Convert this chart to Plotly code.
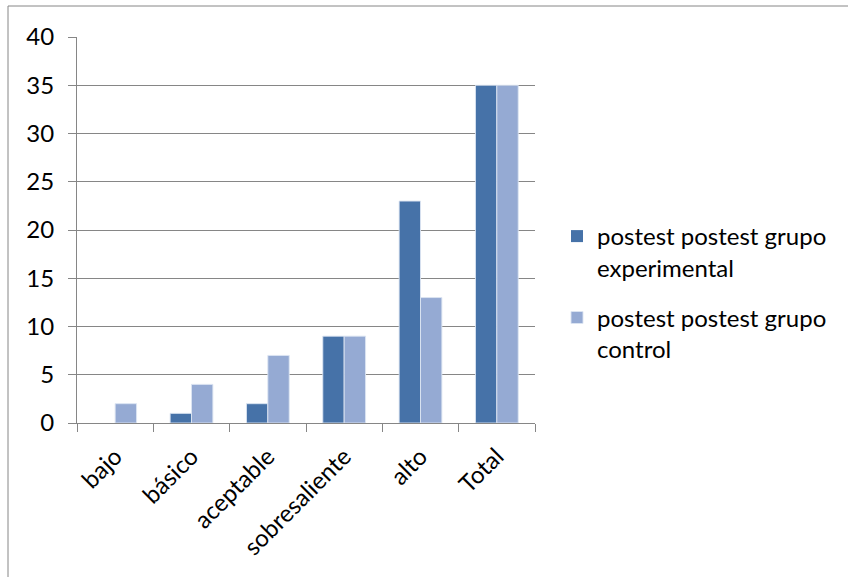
import plotly.graph_objects as go

categories = ["bajo", "básico", "aceptable", "sobresaliente", "alto", "Total"]
experimental = [0, 1, 2, 9, 23, 35]
control = [2, 4, 7, 9, 13, 35]
series_names = ["postest postest grupo<br>experimental", "postest postest grupo<br>control"]
y_ticks = [0, 5, 10, 15, 20, 25, 30, 35, 40]

W, H = 848, 577
L, R, T, B = 77, 313, 37, 154
pw, ph = W - L - R, H - T - B

def px(x):
    return (x - L) / pw

def py(y):
    return (H - B - y) / ph

FONT = "Lato, Carlito, Calibri, sans-serif"
EDGE = "rgba(220,228,242,0.9)"

fig = go.Figure()
fig.add_trace(go.Bar(x=categories, y=experimental, name=series_names[0], legendgroup="exp",
                     marker=dict(color="#4672A8",
                                 line=dict(color=EDGE, width=[0 if v == 0 else 1 for v in experimental]))))
fig.add_trace(go.Bar(x=categories, y=control, name=series_names[1], legendgroup="ctl",
                     marker=dict(color="#95AAD3",
                                 line=dict(color=EDGE, width=[0 if v == 0 else 1 for v in control]))))

fig.update_layout(
    width=W, height=H,
    margin=dict(l=L, r=R, t=T, b=B),
    paper_bgcolor="white", plot_bgcolor="white",
    barmode="group", bargap=0.44, bargroupgap=0,
    font=dict(family=FONT, size=24, color="black"),
    showlegend=True,
    legend=dict(x=px(557), y=py(214), xanchor="left", yanchor="top",
                font=dict(size=24), tracegroupgap=16, itemwidth=30, valign="top",
                bgcolor="rgba(0,0,0,0)"),
    shapes=[dict(type="rect", xref="paper", yref="paper",
                 x0=px(8), y0=py(600), x1=px(870), y1=py(6),
                 line=dict(color="#868686", width=1), layer="below")],
)
fig.update_xaxes(showline=True, linecolor="#868686", linewidth=1,
                 ticks="outside", ticklen=8, tickcolor="#868686", tickson="boundaries",
                 tickangle=-45, showgrid=False, ticklabelstandoff=9)
fig.update_yaxes(range=[0, 40], tickvals=y_ticks, showline=True, linecolor="#868686", linewidth=1,
                 ticks="outside", ticklen=8, tickcolor="#868686",
                 showgrid=True, gridcolor="#868686", gridwidth=1, zeroline=False,
                 ticklabelstandoff=9)

fig.write_html("out.html", config={"displayModeBar": False},
               post_script="document.body.style.margin='0';document.body.style.overflow='hidden';")
